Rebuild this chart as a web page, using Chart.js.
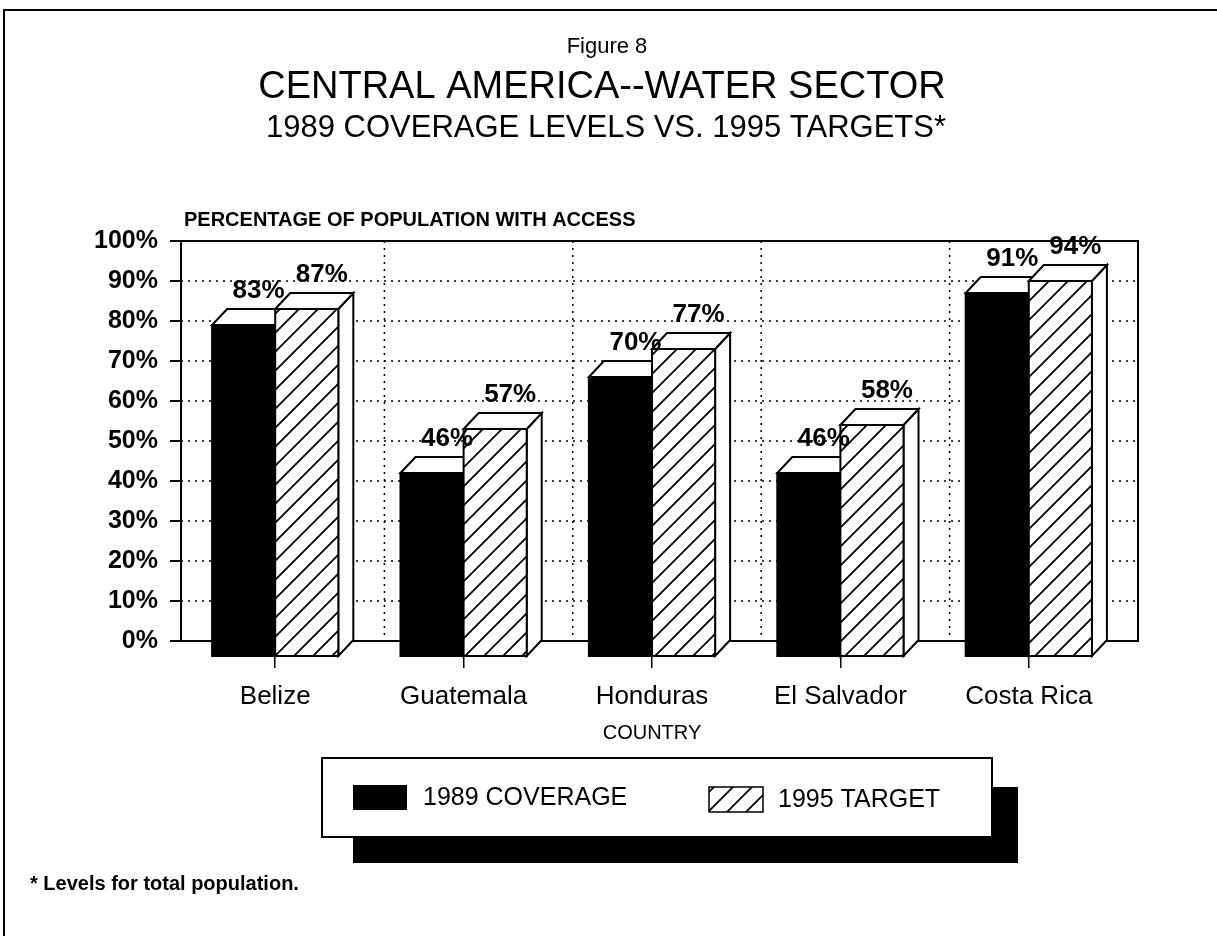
<!DOCTYPE html>
<html>
<head>
<meta charset="utf-8">
<script src="https://cdn.jsdelivr.net/npm/chart.js@4.4.0/dist/chart.umd.min.js"></script>
<style>
  html, body { margin: 0; padding: 0; background: #fff; }
  canvas { display: block; }
</style>
</head>
<body>
<canvas id="waterChart" width="1217" height="936"></canvas>
<script>
  // data
  const countries = ['Belize', 'Guatemala', 'Honduras', 'El Salvador', 'Costa Rica'];
  const coverage1989 = [83, 46, 70, 46, 91];
  const target1995 = [87, 57, 77, 58, 94];
  const seriesNames = ['1989 COVERAGE', '1995 TARGET'];
  const yTickValues = [0, 10, 20, 30, 40, 50, 60, 70, 80, 90, 100];

  const FONT = '"Liberation Sans", Arial, Helvetica, sans-serif';
  const DX = 15, DY = 16; // depth of the 3d boxes

  // diagonal hatch for the target bars
  function makeHatch() {
    const s = 19;
    const c = document.createElement('canvas');
    c.width = s; c.height = s;
    const g = c.getContext('2d');
    g.fillStyle = '#fff';
    g.fillRect(0, 0, s, s);
    g.strokeStyle = '#000';
    g.lineWidth = 1.8;
    g.beginPath();
    g.moveTo(-2, s + 2); g.lineTo(s + 2, -2);
    g.moveTo(-2, 2); g.lineTo(2, -2);
    g.moveTo(s - 2, s + 2); g.lineTo(s + 2, s - 2);
    g.stroke();
    return g.createPattern(c, 'repeat');
  }

  function drawBox(ctx, bar, fill) {
    const { x, y, width, base } = bar.getProps(['x', 'y', 'width', 'base'], true);
    const L = x - width / 2, R = x + width / 2;
    ctx.save();
    ctx.lineWidth = 2;
    ctx.strokeStyle = '#000';
    ctx.lineJoin = 'miter';
    // side face
    ctx.beginPath();
    ctx.moveTo(R, y + DY); ctx.lineTo(R + DX, y); ctx.lineTo(R + DX, base); ctx.lineTo(R, base + DY);
    ctx.closePath();
    ctx.fillStyle = '#fff'; ctx.fill(); ctx.stroke();
    // top face
    ctx.beginPath();
    ctx.moveTo(L, y + DY); ctx.lineTo(L + DX, y); ctx.lineTo(R + DX, y); ctx.lineTo(R, y + DY);
    ctx.closePath();
    ctx.fill(); ctx.stroke();
    // front face
    ctx.fillStyle = fill;
    ctx.fillRect(L, y + DY, width, base - y);
    ctx.strokeRect(L, y + DY, width, base - y);
    ctx.restore();
  }

  const wallPlugin = {
    id: 'wall',
    beforeDatasetsDraw(chart) {
      const { ctx, chartArea: a, scales: { x, y } } = chart;
      ctx.save();
      ctx.strokeStyle = '#000';
      // dotted grid on the back wall
      ctx.lineWidth = 1.5;
      ctx.setLineDash([2, 5]);
      yTickValues.slice(1, -1).forEach(v => {
        const py = y.getPixelForValue(v);
        ctx.beginPath(); ctx.moveTo(a.left, py); ctx.lineTo(a.right + DX, py); ctx.stroke();
      });
      for (let i = 1; i < countries.length; i++) {
        const px = (x.getPixelForValue(i - 1) + x.getPixelForValue(i)) / 2 + DX;
        ctx.beginPath(); ctx.moveTo(px, a.top); ctx.lineTo(px, a.bottom); ctx.stroke();
      }
      // frame
      ctx.setLineDash([]);
      ctx.lineWidth = 2;
      ctx.beginPath();
      ctx.moveTo(a.left, a.top); ctx.lineTo(a.right + DX, a.top);
      ctx.lineTo(a.right + DX, a.bottom); ctx.lineTo(a.left, a.bottom);
      ctx.stroke();
      ctx.restore();
    },
    afterDatasetsDraw(chart) {
      const ctx = chart.ctx;
      const hatch = makeHatch();
      const metas = [chart.getDatasetMeta(0), chart.getDatasetMeta(1)];
      for (let i = 0; i < countries.length; i++) {
        drawBox(ctx, metas[0].data[i], '#000');
        drawBox(ctx, metas[1].data[i], hatch);
      }
      // value labels
      ctx.save();
      ctx.fillStyle = '#000';
      ctx.font = 'bold 26px ' + FONT;
      ctx.textAlign = 'center';
      ctx.textBaseline = 'alphabetic';
      metas.forEach((meta, d) => {
        meta.data.forEach((bar, i) => {
          const v = chart.data.datasets[d].data[i];
          ctx.fillText(v + '%', bar.x + DX, bar.y - 11);
        });
      });
      ctx.restore();
    },
    afterDraw(chart) {
      const ctx = chart.ctx;
      ctx.save();
      ctx.fillStyle = '#000';
      ctx.strokeStyle = '#000';
      // page border
      ctx.lineWidth = 2;
      ctx.beginPath();
      ctx.moveTo(4, 936); ctx.lineTo(4, 10); ctx.lineTo(1217, 10);
      ctx.stroke();

      // titles
      ctx.textAlign = 'center';
      ctx.textBaseline = 'middle';
      ctx.font = '22px ' + FONT;
      ctx.fillText('Figure 8', 607, 47);
      ctx.font = '38px ' + FONT;
      ctx.fillText('CENTRAL AMERICA--WATER SECTOR', 602, 88);
      ctx.font = '31px ' + FONT;
      ctx.fillText('1989 COVERAGE LEVELS VS. 1995 TARGETS*', 606, 128);

      // y axis caption
      ctx.textAlign = 'left';
      ctx.font = 'bold 20px ' + FONT;
      ctx.fillText('PERCENTAGE OF POPULATION WITH ACCESS', 184, 220);

      // legend with drop shadow
      ctx.fillRect(353, 787, 665, 76);
      ctx.fillStyle = '#fff';
      ctx.fillRect(322, 758, 670, 79);
      ctx.lineWidth = 2;
      ctx.strokeRect(322, 758, 670, 79);
      ctx.fillStyle = '#000';
      ctx.fillRect(353, 785, 54, 25);
      ctx.fillStyle = makeHatch();
      ctx.fillRect(709, 787, 54, 25);
      ctx.lineWidth = 1.5;
      ctx.strokeRect(709, 787, 54, 25);
      ctx.fillStyle = '#000';
      ctx.font = '25px ' + FONT;
      ctx.fillText(chart.data.datasets[0].label, 423, 798);
      ctx.fillText(chart.data.datasets[1].label, 778, 800);

      // footnote
      ctx.font = 'bold 20px ' + FONT;
      ctx.fillText('* Levels for total population.', 30, 884);
      ctx.restore();
    }
  };

  const ctx = document.getElementById('waterChart').getContext('2d');
  new Chart(ctx, {
    type: 'bar',
    data: {
      labels: countries,
      datasets: [
        { label: seriesNames[0], data: coverage1989, backgroundColor: 'rgba(0,0,0,0)', borderWidth: 0 },
        { label: seriesNames[1], data: target1995, backgroundColor: 'rgba(0,0,0,0)', borderWidth: 0 }
      ]
    },
    options: {
      responsive: false,
      animation: false,
      devicePixelRatio: 1,
      categoryPercentage: 0.67,
      barPercentage: 1.0,
      layout: { padding: { top: 241, left: 0, right: 94, bottom: 185 } },
      plugins: { legend: { display: false }, tooltip: { enabled: false } },
      scales: {
        x: {
          afterFit: s => { s.height = 110; },
          grid: { display: true, drawOnChartArea: false, offset: false, tickLength: 27, color: '#000', lineWidth: 1.5 },
          border: { display: false },
          ticks: { color: '#000', padding: 13, font: { family: FONT, size: 26 } },
          title: { display: true, text: 'COUNTRY', color: '#000', padding: { top: 0, bottom: 6 }, font: { family: FONT, size: 20 } }
        },
        y: {
          min: 0,
          max: 100,
          afterFit: s => { s.width = 181; },
          afterBuildTicks: s => { s.ticks = yTickValues.map(v => ({ value: v })); },
          grid: { drawOnChartArea: false, tickLength: 11, color: '#000', lineWidth: 2 },
          border: { display: true, color: '#000', width: 2 },
          ticks: { color: '#000', padding: 12, callback: v => v + '%', font: { family: FONT, size: 25, weight: 'bold' } }
        }
      }
    },
    plugins: [wallPlugin]
  });
</script>
</body>
</html>
